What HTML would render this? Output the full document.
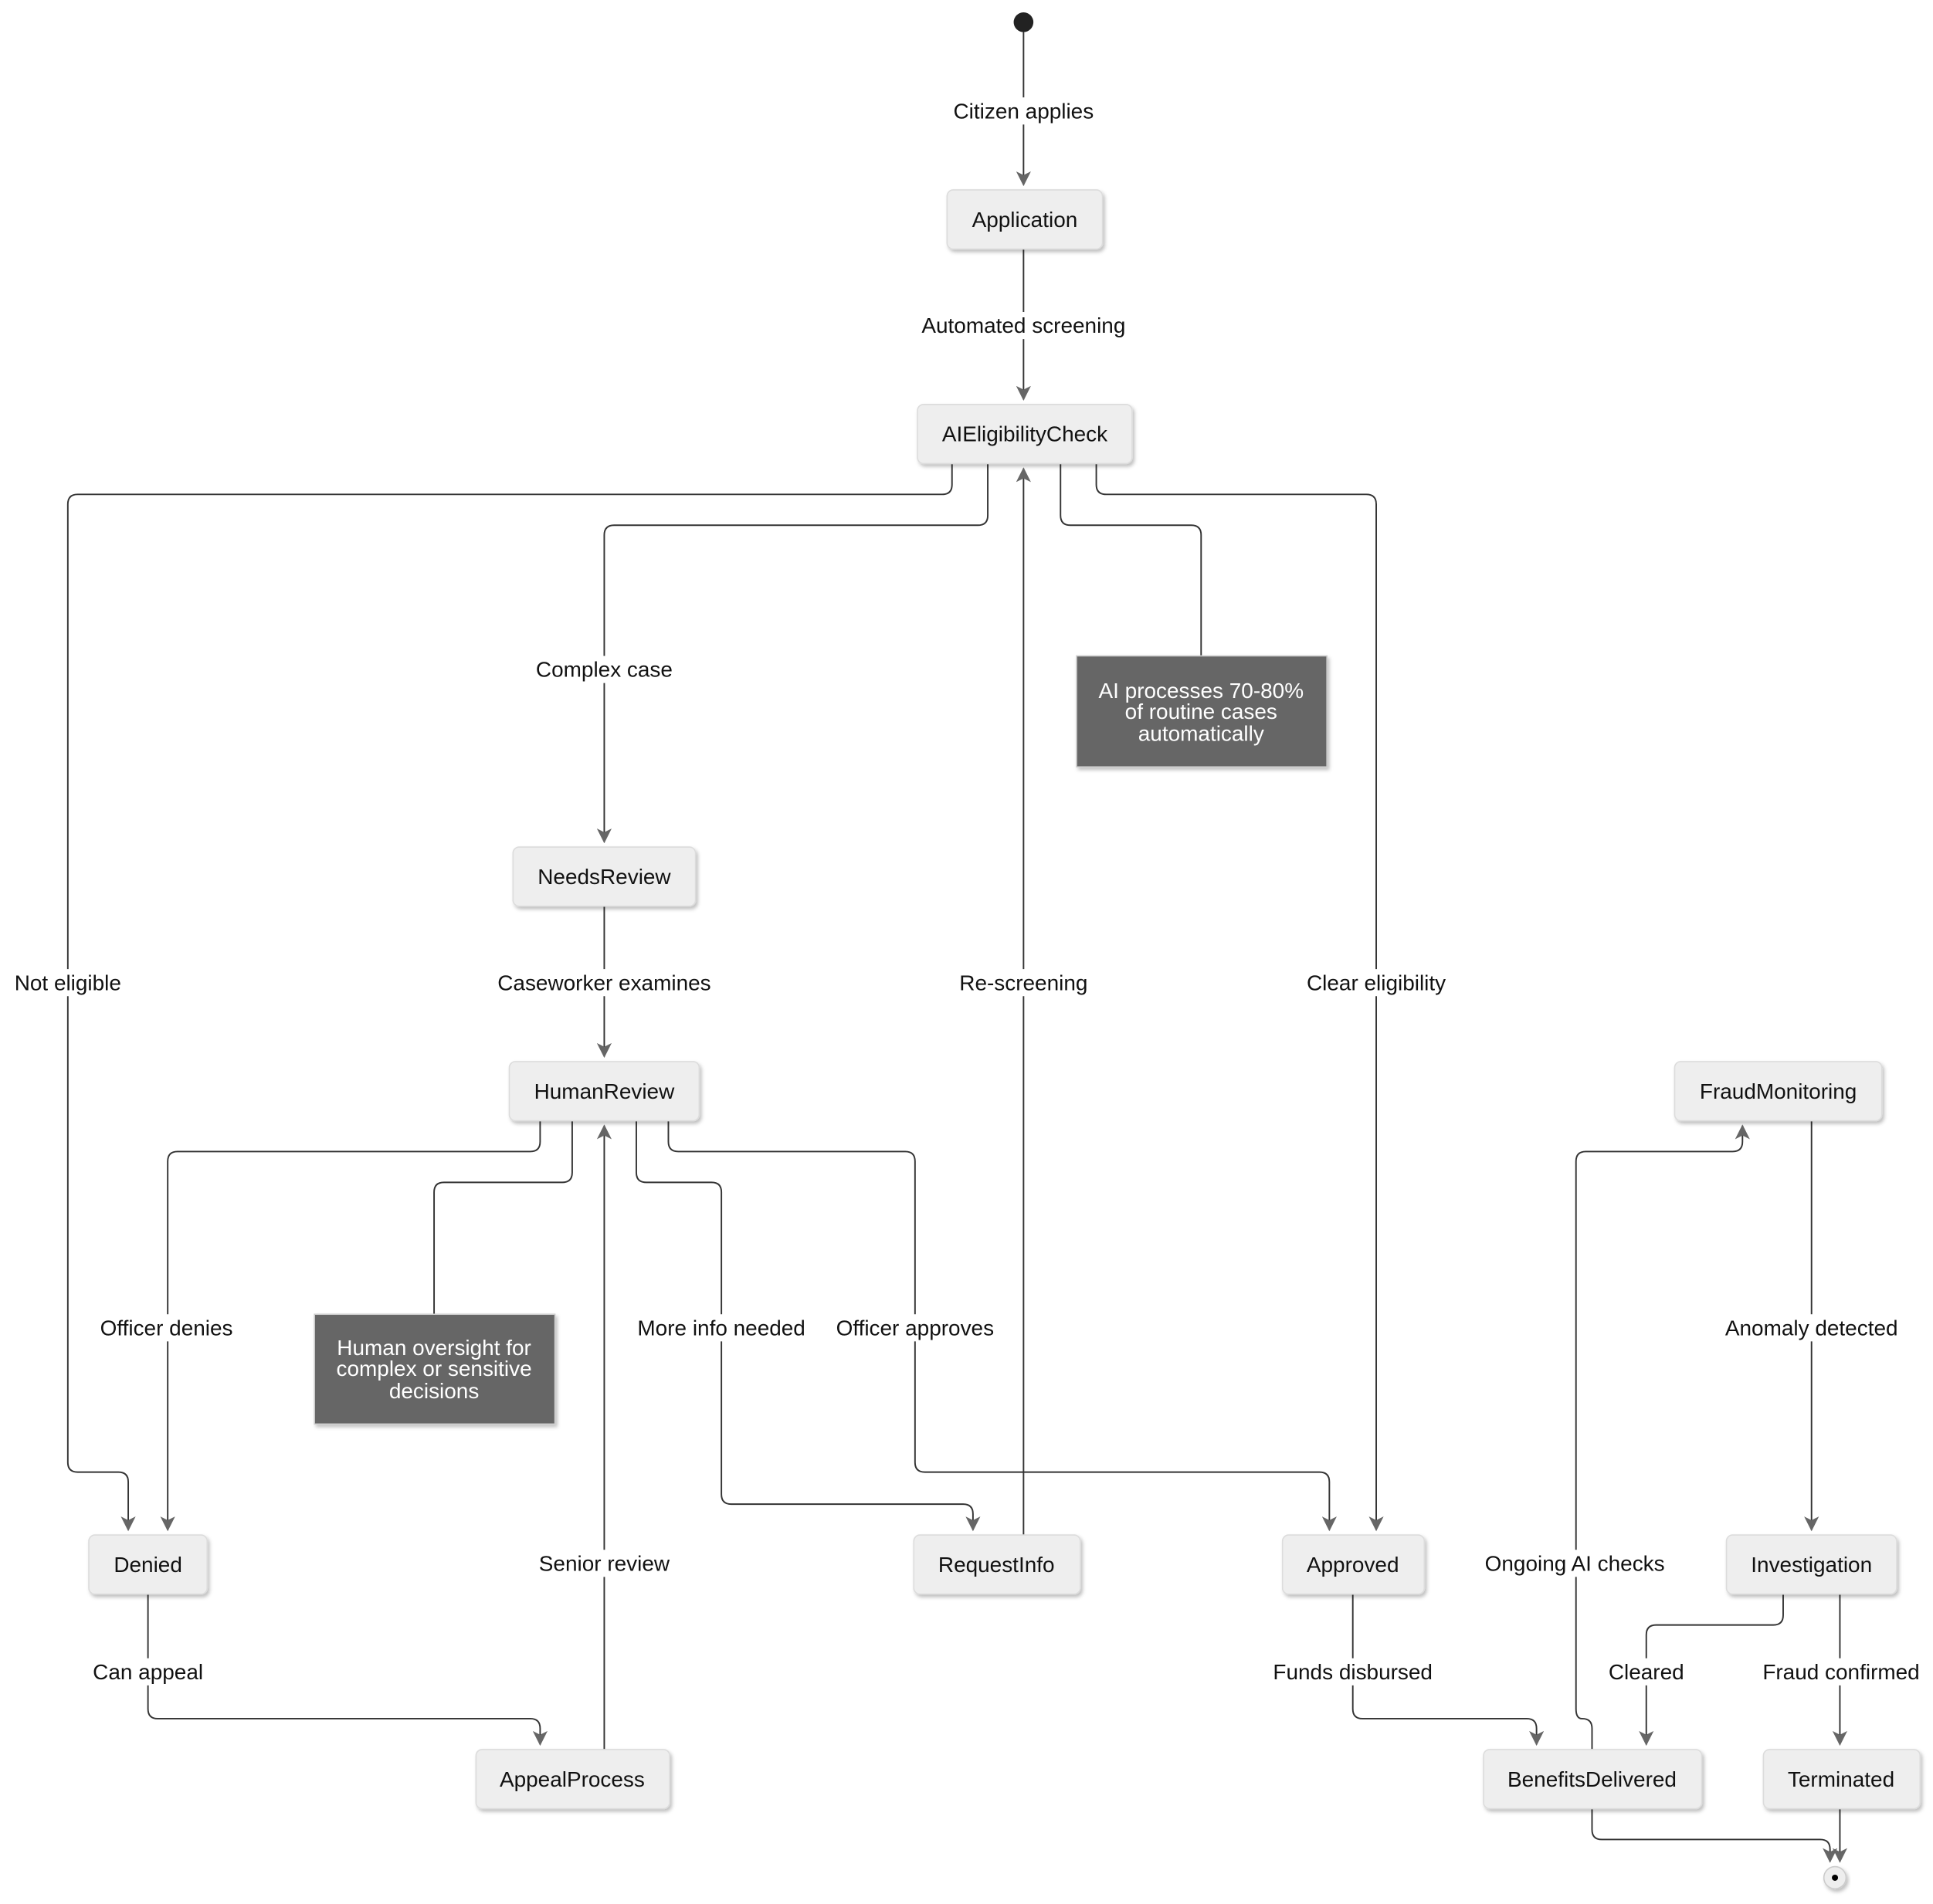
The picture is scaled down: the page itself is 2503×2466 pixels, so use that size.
<!DOCTYPE html>
<html><head><meta charset="utf-8"><style>
html,body{margin:0;padding:0;background:#fff;}
svg{display:block;}
text{font-family:"Liberation Sans",Arial,sans-serif;}
</style></head><body>
<svg width="2503" height="2466" viewBox="0 0 1567.5 1544.3" xmlns="http://www.w3.org/2000/svg">
<defs>
<marker id="a" markerWidth="12" markerHeight="12" refX="11" refY="6" orient="auto-start-reverse" markerUnits="userSpaceOnUse" viewBox="0 0 12 12">
<path d="M0,0 L12,6 L0,12 L3,6 Z" fill="#666"/>
</marker>
<filter id="sh" x="-10%" y="-10%" width="130%" height="140%"><feDropShadow dx="1.5" dy="2" stdDeviation="1.5" flood-color="#000" flood-opacity="0.25"/></filter>
</defs>
<g fill="none" stroke="#333" stroke-width="1.2">
<path d="M830,26 V150" marker-end="url(#a)"/>
<path d="M830,202 V324" marker-end="url(#a)"/>
<path d="M772,376 V393 Q772,401 764,401 H63 Q55,401 55,409 V1186 Q55,1194 63,1194 H96 Q104,1194 104,1202 V1241" marker-end="url(#a)"/>
<path d="M801,376 V418 Q801,426 793,426 H498 Q490,426 490,434 V683" marker-end="url(#a)"/>
<path d="M860,376 V418 Q860,426 868,426 H966 Q974,426 974,434 V532"/>
<path d="M889,376 V393 Q889,401 897,401 H1108 Q1116,401 1116,409 V1241" marker-end="url(#a)"/>
<path d="M830,1245 V380" marker-end="url(#a)"/>
<path d="M490,735 V857" marker-end="url(#a)"/>
<path d="M438,909 V926 Q438,934 430,934 H144 Q136,934 136,942 V1241" marker-end="url(#a)"/>
<path d="M464,909 V951 Q464,959 456,959 H360 Q352,959 352,967 V1066"/>
<path d="M516,909 V951 Q516,959 524,959 H577 Q585,959 585,967 V1212 Q585,1220 593,1220 H781 Q789,1220 789,1228 V1241" marker-end="url(#a)"/>
<path d="M542,909 V926 Q542,934 550,934 H734 Q742,934 742,942 V1186 Q742,1194 750,1194 H1070 Q1078,1194 1078,1202 V1241" marker-end="url(#a)"/>
<path d="M490,1419 V913" marker-end="url(#a)"/>
<path d="M120,1293 V1386 Q120,1394 128,1394 H430 Q438,1394 438,1402 V1415" marker-end="url(#a)"/>
<path d="M1097,1293 V1386 Q1097,1394 1105,1394 H1238 Q1246,1394 1246,1402 V1415" marker-end="url(#a)"/>
<path d="M1291,1419 V1402 Q1291,1394 1283,1394 Q1278,1394 1278,1386 V942 Q1278,934 1286,934 H1405 Q1413,934 1413,926 V913" marker-end="url(#a)"/>
<path d="M1469,909 V1241" marker-end="url(#a)"/>
<path d="M1446,1293 V1310 Q1446,1318 1438,1318 H1343 Q1335,1318 1335,1326 V1415" marker-end="url(#a)"/>
<path d="M1492,1293 V1415" marker-end="url(#a)"/>
<path d="M1291,1467 V1484 Q1291,1492 1299,1492 H1476 Q1484,1492 1484,1500 V1510" marker-end="url(#a)"/>
<path d="M1492,1467 V1510" marker-end="url(#a)"/>
</g>
<circle cx="830" cy="18" r="8" fill="#222"/>
<circle cx="1488" cy="1523" r="9" fill="#eee" stroke="#ccc" stroke-width="1" filter="url(#sh)"/>
<circle cx="1488" cy="1523" r="2.5" fill="#000"/>
<g fill="#eeeeee" stroke="#dcdcdc" stroke-width="1" filter="url(#sh)">
<rect x="768" y="154" width="126" height="48" rx="5"/>
<rect x="744" y="328" width="174" height="48" rx="5"/>
<rect x="416" y="687" width="148" height="48" rx="5"/>
<rect x="413" y="861" width="154" height="48" rx="5"/>
<rect x="1358" y="861" width="168" height="48" rx="5"/>
<rect x="72" y="1245" width="96" height="48" rx="5"/>
<rect x="741" y="1245" width="135" height="48" rx="5"/>
<rect x="1040" y="1245" width="115" height="48" rx="5"/>
<rect x="1400" y="1245" width="138" height="48" rx="5"/>
<rect x="386" y="1419" width="157" height="48" rx="5"/>
<rect x="1203" y="1419" width="177" height="48" rx="5"/>
<rect x="1430" y="1419" width="127" height="48" rx="5"/>
</g>
<g fill="#666" stroke="#ccc" stroke-width="1" filter="url(#sh)">
<rect x="873" y="532" width="203" height="90"/>
<rect x="255" y="1066" width="195" height="89"/>
</g>
<g font-size="17.5" fill="#111" text-anchor="middle">
<text x="831" y="184">Application</text>
<text x="831" y="358">AIEligibilityCheck</text>
<text x="490" y="717">NeedsReview</text>
<text x="490" y="891">HumanReview</text>
<text x="1442" y="891">FraudMonitoring</text>
<text x="120" y="1275">Denied</text>
<text x="808" y="1275">RequestInfo</text>
<text x="1097" y="1275">Approved</text>
<text x="1469" y="1275">Investigation</text>
<text x="464" y="1449">AppealProcess</text>
<text x="1291" y="1449">BenefitsDelivered</text>
<text x="1493" y="1449">Terminated</text>
</g>
<g font-size="17.5" fill="#fff" text-anchor="middle">
<text x="974" y="566">AI processes 70-80%</text>
<text x="974" y="583">of routine cases</text>
<text x="974" y="601">automatically</text>
<text x="352" y="1099">Human oversight for</text>
<text x="352" y="1116">complex or sensitive</text>
<text x="352" y="1134">decisions</text>
</g>
<g font-size="17.5" fill="#111" text-anchor="middle">
<g fill="#fff">
<rect x="764" y="79" width="132" height="22"/>
<rect x="738" y="253" width="184" height="22"/>
<rect x="4" y="786" width="102" height="22"/>
<rect x="425" y="532" width="130" height="22"/>
<rect x="1050" y="786" width="132" height="22"/>
<rect x="769" y="786" width="122" height="22"/>
<rect x="394" y="786" width="192" height="22"/>
<rect x="72" y="1066" width="126" height="22"/>
<rect x="507" y="1066" width="155" height="22"/>
<rect x="669" y="1066" width="146" height="22"/>
<rect x="1390" y="1066" width="158" height="22"/>
<rect x="428" y="1257" width="124" height="22"/>
<rect x="1195" y="1257" width="164" height="22"/>
<rect x="66" y="1345" width="108" height="22"/>
<rect x="1023" y="1345" width="148" height="22"/>
<rect x="1295" y="1345" width="80" height="22"/>
<rect x="1420" y="1345" width="146" height="22"/>
</g>
<text x="830" y="96">Citizen applies</text>
<text x="830" y="270">Automated screening</text>
<text x="55" y="803">Not eligible</text>
<text x="490" y="549">Complex case</text>
<text x="1116" y="803">Clear eligibility</text>
<text x="830" y="803">Re-screening</text>
<text x="490" y="803">Caseworker examines</text>
<text x="135" y="1083">Officer denies</text>
<text x="585" y="1083">More info needed</text>
<text x="742" y="1083">Officer approves</text>
<text x="1469" y="1083">Anomaly detected</text>
<text x="490" y="1274">Senior review</text>
<text x="1277" y="1274">Ongoing AI checks</text>
<text x="120" y="1362">Can appeal</text>
<text x="1097" y="1362">Funds disbursed</text>
<text x="1335" y="1362">Cleared</text>
<text x="1493" y="1362">Fraud confirmed</text>
</g>
</svg>
</body></html>
